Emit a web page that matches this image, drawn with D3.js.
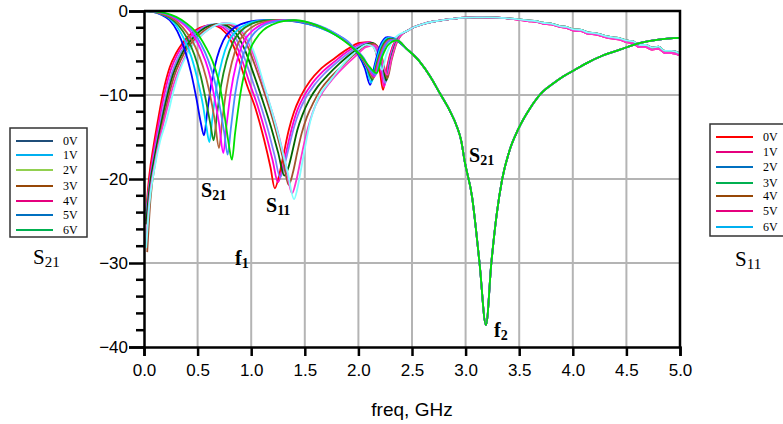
<!DOCTYPE html>
<html>
<head>
<meta charset="utf-8">
<script src="https://cdn.jsdelivr.net/npm/d3@7"></script>
<style>
  html, body { margin: 0; padding: 0; background: #fff; }
  svg { display: block; }
</style>
</head>
<body>
<svg id="chart" width="783" height="424"></svg>
<script>
// ---- data ---------------------------------------------------------------
const freqTicks = [0.0, 0.5, 1.0, 1.5, 2.0, 2.5, 3.0, 3.5, 4.0, 4.5, 5.0];
const dbTicks = [0, -10, -20, -30, -40];
const biasLabels = ["0V", "1V", "2V", "3V", "4V", "5V", "6V"];

// curve colours (one per bias voltage)
const s21Colors = ["#0000ff", "#00d8ff", "#1a8c1a", "#b5653a", "#ff00ff", "#4a8cff", "#00e000"];
const s11Colors = ["#ff0000", "#ff00cc", "#8080ff", "#006400", "#a0522d", "#ff33cc", "#80ffff"];
// legend swatch colours
const s21LegendColors = ["#1f4e79", "#00b0f0", "#92d050", "#974706", "#e5007e", "#0070c0", "#00b050"];
const s11LegendColors = ["#ff0000", "#e5007e", "#0070c0", "#00b050", "#974706", "#e5007e", "#00b0f0"];

// S21 (dB) vs freq (GHz), low-band part for each bias voltage
const s21Bias0 = [[0,0],[0.08,-0.1],[0.16,-0.45],[0.24,-1.1],[0.31,-2.4],[0.38,-4.6],[0.44,-7.4],[0.49,-10.5],[0.53,-13.3],[0.56,-14.8],[0.59,-12],[0.63,-8.5],[0.68,-5.6],[0.74,-3.5],[0.82,-2.2],[0.92,-1.5],[1.04,-1.15],[1.18,-1.05],[1.32,-1.1],[1.46,-1.35],[1.6,-1.8],[1.72,-2.4],[1.82,-3.1],[1.92,-4.0],[2.0,-5.2],[2.06,-6.8],[2.11,-8.8],[2.15,-6.5],[2.2,-4.2],[2.27,-3.1],[2.32,-3.2]];
const s21Bias1 = [[0,0],[0.08,-0.08],[0.16,-0.38],[0.24,-0.9],[0.31,-1.9],[0.38,-3.5],[0.44,-5.4],[0.5,-8.2],[0.55,-11.2],[0.58,-13.6],[0.61,-15.6],[0.64,-12.5],[0.68,-8.8],[0.73,-5.8],[0.79,-3.6],[0.87,-2.3],[0.97,-1.5],[1.08,-1.15],[1.22,-1.05],[1.35,-1.1],[1.48,-1.35],[1.6,-1.8],[1.72,-2.4],[1.82,-3.1],[1.92,-4.0],[2.0,-5.1],[2.07,-6.6],[2.12,-8.5],[2.16,-6.4],[2.21,-4.2],[2.28,-3.2],[2.33,-3.3]];
const s21Bias2 = [[0,0],[0.08,-0.07],[0.16,-0.33],[0.24,-0.8],[0.32,-1.7],[0.4,-3.2],[0.47,-5.2],[0.53,-7.8],[0.58,-10.8],[0.62,-13.5],[0.65,-15.4],[0.68,-12.4],[0.72,-8.8],[0.77,-5.9],[0.83,-3.7],[0.91,-2.3],[1.0,-1.55],[1.12,-1.15],[1.26,-1.05],[1.38,-1.1],[1.5,-1.35],[1.62,-1.8],[1.73,-2.4],[1.83,-3.15],[1.93,-4.1],[2.01,-5.2],[2.08,-6.7],[2.13,-8.2],[2.17,-6.3],[2.22,-4.3],[2.29,-3.3],[2.34,-3.4]];
const s21Bias3 = [[0,0],[0.08,-0.06],[0.16,-0.3],[0.24,-0.7],[0.32,-1.4],[0.4,-2.6],[0.48,-4.3],[0.55,-6.6],[0.61,-9.6],[0.66,-13],[0.70,-16.3],[0.73,-13],[0.77,-9.2],[0.82,-6.1],[0.88,-3.8],[0.96,-2.4],[1.05,-1.6],[1.16,-1.2],[1.3,-1.05],[1.42,-1.15],[1.54,-1.45],[1.65,-1.9],[1.75,-2.5],[1.85,-3.2],[1.94,-4.2],[2.02,-5.3],[2.09,-6.8],[2.14,-8.0],[2.18,-6.2],[2.23,-4.3],[2.3,-3.4],[2.35,-3.5]];
const s21Bias4 = [[0,0],[0.1,-0.08],[0.2,-0.35],[0.3,-0.95],[0.38,-1.7],[0.46,-2.9],[0.53,-4.6],[0.6,-7.0],[0.65,-9.8],[0.7,-13.4],[0.74,-16.9],[0.77,-13.6],[0.81,-9.6],[0.86,-6.3],[0.92,-3.9],[1.0,-2.5],[1.09,-1.65],[1.2,-1.2],[1.33,-1.08],[1.45,-1.2],[1.56,-1.5],[1.67,-2.0],[1.77,-2.6],[1.86,-3.3],[1.95,-4.3],[2.03,-5.4],[2.1,-6.9],[2.15,-7.8],[2.19,-6.1],[2.24,-4.3],[2.3,-3.5]];
const s21Bias5 = [[0,0],[0.1,-0.06],[0.2,-0.3],[0.3,-0.8],[0.38,-1.5],[0.46,-2.5],[0.53,-3.9],[0.6,-5.9],[0.66,-8.4],[0.71,-11.6],[0.75,-14.6],[0.78,-17.1],[0.81,-14],[0.85,-9.9],[0.9,-6.5],[0.96,-4.0],[1.03,-2.6],[1.12,-1.7],[1.23,-1.25],[1.36,-1.1],[1.48,-1.25],[1.6,-1.6],[1.7,-2.1],[1.8,-2.8],[1.89,-3.5],[1.97,-4.5],[2.05,-5.6],[2.11,-7.0],[2.16,-7.6],[2.2,-6.0],[2.25,-4.2],[2.31,-3.5]];
const s21Bias6 = [[0,0],[0.1,-0.05],[0.2,-0.25],[0.3,-0.7],[0.4,-1.5],[0.47,-2.3],[0.52,-3.1],[0.58,-4.4],[0.64,-6.0],[0.69,-8.0],[0.73,-10.5],[0.76,-13.2],[0.79,-15.8],[0.82,-17.7],[0.85,-14.5],[0.9,-9.8],[0.95,-6.6],[0.99,-4.6],[1.05,-3.2],[1.11,-2.3],[1.2,-1.6],[1.3,-1.2],[1.4,-1.1],[1.5,-1.25],[1.62,-1.75],[1.74,-2.5],[1.84,-3.3],[1.94,-4.3],[2.03,-5.4],[2.1,-6.6],[2.17,-7.4],[2.22,-5.5],[2.28,-4.0]];
// common high-band part of S21 (all bias voltages coincide)
const s21High = [[2.36,-3.5],[2.45,-4.5],[2.57,-6.0],[2.67,-7.8],[2.76,-9.8],[2.85,-11.8],[2.92,-13.8],[2.96,-15.5],[2.99,-17.8],[3.06,-22.1],[3.13,-30],[3.19,-37.4],[3.24,-30],[3.29,-24.2],[3.34,-20.1],[3.41,-16.6],[3.49,-14.1],[3.6,-11.6],[3.72,-9.6],[3.82,-8.6],[3.91,-7.8],[4.02,-7.0],[4.13,-6.2],[4.28,-5.3],[4.44,-4.6],[4.63,-3.8],[4.8,-3.4],[5.0,-3.2]];

// S11 (dB) vs freq (GHz), low-band part for each bias voltage
const s11Bias0 = [[0.02,-23.8],[0.05,-19.5],[0.09,-16],[0.13,-13],[0.18,-9.6],[0.24,-6.7],[0.3,-5.0],[0.36,-3.8],[0.44,-2.7],[0.52,-2.0],[0.6,-1.7],[0.66,-1.75],[0.72,-2.1],[0.8,-3.3],[0.88,-5.6],[0.96,-8.8],[1.04,-11.6],[1.12,-15.3],[1.18,-18.6],[1.22,-21.1],[1.26,-19.6],[1.3,-17.2],[1.35,-14.2],[1.4,-12],[1.46,-10.2],[1.55,-8.3],[1.64,-7.0],[1.76,-5.8],[1.89,-4.6],[2.01,-3.8],[2.1,-3.7],[2.16,-4.8],[2.2,-7.2],[2.23,-9.4],[2.27,-6.5],[2.32,-4.2],[2.38,-3.0]];
const s11Bias1 = [[0.02,-25],[0.05,-20.5],[0.09,-16.8],[0.14,-13.2],[0.19,-9.9],[0.25,-7.0],[0.31,-5.2],[0.38,-3.8],[0.46,-2.7],[0.54,-2.0],[0.62,-1.65],[0.68,-1.7],[0.74,-2.0],[0.82,-3.1],[0.9,-5.3],[0.98,-8.4],[1.06,-11.3],[1.14,-14.8],[1.2,-17.8],[1.25,-20.4],[1.29,-18.8],[1.33,-16.6],[1.38,-13.9],[1.43,-11.8],[1.49,-10.2],[1.57,-8.6],[1.66,-7.3],[1.78,-6.0],[1.9,-4.8],[2.02,-3.9],[2.11,-3.7],[2.17,-4.7],[2.21,-7.0],[2.24,-9.0],[2.28,-6.2],[2.33,-4.0],[2.39,-2.9]];
const s11Bias2 = [[0.02,-24.2],[0.05,-20.8],[0.1,-16.8],[0.15,-13.5],[0.2,-10.4],[0.26,-7.4],[0.32,-5.5],[0.39,-4.0],[0.47,-2.8],[0.55,-2.0],[0.64,-1.6],[0.7,-1.6],[0.76,-1.9],[0.84,-2.9],[0.92,-5.0],[1.0,-7.9],[1.08,-10.9],[1.16,-14.3],[1.22,-17.3],[1.27,-19.8],[1.31,-18.4],[1.35,-16.3],[1.4,-13.8],[1.45,-11.9],[1.51,-10.3],[1.59,-8.8],[1.68,-7.5],[1.8,-6.1],[1.92,-4.9],[2.04,-4.0],[2.12,-3.8],[2.18,-4.6],[2.22,-6.8],[2.25,-8.6],[2.29,-6.0],[2.34,-3.9],[2.4,-2.8]];
const s11Bias3 = [[0.02,-25.4],[0.05,-21.2],[0.1,-17.3],[0.16,-13.4],[0.21,-10.5],[0.27,-7.6],[0.33,-5.7],[0.4,-4.1],[0.48,-2.9],[0.57,-2.0],[0.66,-1.6],[0.72,-1.55],[0.78,-1.8],[0.86,-2.7],[0.94,-4.6],[1.02,-7.4],[1.1,-10.4],[1.18,-13.6],[1.25,-16.8],[1.31,-19.6],[1.35,-18.5],[1.39,-16.4],[1.43,-14.2],[1.48,-12.3],[1.54,-10.6],[1.62,-9.0],[1.71,-7.7],[1.82,-6.3],[1.94,-5.0],[2.05,-4.1],[2.13,-3.8],[2.19,-4.6],[2.23,-6.6],[2.26,-8.3],[2.3,-5.9],[2.35,-3.8],[2.41,-2.7]];
const s11Bias4 = [[0.03,-28.7],[0.06,-22.5],[0.11,-17.6],[0.17,-13.6],[0.22,-10.7],[0.28,-7.8],[0.34,-5.9],[0.41,-4.3],[0.5,-3.0],[0.59,-2.1],[0.68,-1.6],[0.75,-1.5],[0.81,-1.7],[0.89,-2.5],[0.97,-4.3],[1.05,-7.0],[1.13,-10.0],[1.21,-13.3],[1.29,-17.2],[1.35,-20.7],[1.39,-19.2],[1.43,-16.8],[1.47,-14.6],[1.52,-12.6],[1.58,-10.9],[1.65,-9.3],[1.74,-7.9],[1.85,-6.5],[1.96,-5.2],[2.06,-4.2],[2.14,-3.9],[2.2,-4.7],[2.24,-6.6],[2.27,-8.0],[2.31,-5.8],[2.36,-3.7],[2.42,-2.6]];
const s11Bias5 = [[0.02,-27.7],[0.05,-22.4],[0.1,-18.2],[0.16,-14.5],[0.22,-11.4],[0.28,-8.6],[0.35,-6.3],[0.42,-4.6],[0.51,-3.2],[0.6,-2.2],[0.69,-1.6],[0.77,-1.45],[0.84,-1.7],[0.92,-2.6],[1.0,-4.5],[1.08,-7.4],[1.16,-10.6],[1.24,-14.0],[1.32,-18.2],[1.38,-21.7],[1.42,-20.2],[1.46,-17.8],[1.5,-15.4],[1.55,-13.0],[1.6,-11.2],[1.67,-9.6],[1.76,-8.1],[1.87,-6.6],[1.98,-5.3],[2.07,-4.3],[2.15,-4.1],[2.2,-5.0],[2.24,-6.9],[2.27,-7.6],[2.31,-5.6],[2.36,-3.6],[2.42,-2.6]];
const s11Bias6 = [[0.02,-28.2],[0.05,-23],[0.1,-18.6],[0.15,-15.5],[0.21,-13],[0.27,-9.8],[0.33,-7.2],[0.4,-5.2],[0.48,-3.6],[0.56,-2.6],[0.64,-1.9],[0.72,-1.5],[0.8,-1.45],[0.88,-1.8],[0.96,-3.0],[1.04,-5.4],[1.12,-8.8],[1.19,-11.8],[1.27,-15.6],[1.34,-19.2],[1.40,-22.4],[1.43,-21.2],[1.46,-19.2],[1.5,-16.4],[1.55,-13.2],[1.6,-11.2],[1.64,-10.0],[1.7,-8.9],[1.76,-7.9],[1.84,-6.6],[1.92,-5.5],[2.0,-4.6],[2.08,-4.0],[2.14,-4.3],[2.18,-5.5],[2.22,-7.0],[2.26,-5.2],[2.32,-3.5],[2.38,-2.8]];
// common high-band part of S11 (two slightly separated traces)
const s11HighA = [[2.45,-2.4],[2.52,-1.9],[2.6,-1.55],[2.7,-1.25],[2.8,-1.05],[2.9,-0.9],[3.0,-0.8],[3.1,-0.75],[3.2,-0.78],[3.3,-0.8],[3.4,-0.9],[3.5,-1.05],[3.58,-1.2],[3.66,-1.3],[3.72,-1.5],[3.8,-1.6],[3.88,-1.9],[3.94,-2.0],[4.0,-2.3],[4.08,-2.4],[4.14,-2.7],[4.22,-2.8],[4.3,-3.1],[4.38,-3.3],[4.44,-3.4],[4.5,-3.7],[4.56,-3.8],[4.62,-4.3],[4.68,-4.3],[4.74,-4.6],[4.8,-4.5],[4.86,-5.0],[4.92,-5.0],[5.0,-5.3]];
const s11HighB = [[2.45,-2.4],[2.52,-1.9],[2.6,-1.55],[2.7,-1.25],[2.8,-1.05],[2.9,-0.9],[3.0,-0.8],[3.1,-0.75],[3.2,-0.76],[3.3,-0.78],[3.4,-0.88],[3.5,-1.0],[3.58,-1.12],[3.66,-1.22],[3.72,-1.4],[3.8,-1.5],[3.88,-1.8],[3.94,-1.9],[4.0,-2.15],[4.08,-2.25],[4.14,-2.55],[4.22,-2.65],[4.3,-2.95],[4.38,-3.15],[4.44,-3.25],[4.5,-3.5],[4.56,-3.6],[4.62,-4.05],[4.68,-4.05],[4.74,-4.35],[4.8,-4.25],[4.86,-4.75],[4.92,-4.75],[5.0,-5.05]];

// ---- layout -------------------------------------------------------------
const svg = d3.select("#chart");
const plot = { left: 144, right: 680, top: 11, bottom: 347 };
const x = d3.scaleLinear().domain([0, 5]).range([plot.left, plot.right]);
const y = d3.scaleLinear().domain([-40, 0]).range([plot.bottom, plot.top]);
const tickFont = "'Liberation Sans Narrow', 'Arial Narrow', 'Liberation Sans', Arial, sans-serif";
const serif = "'Liberation Serif', 'Times New Roman', 'DejaVu Serif', serif";

svg.append("defs").append("clipPath").attr("id", "plotClip")
  .append("rect")
  .attr("x", plot.left).attr("y", plot.top - 1)
  .attr("width", plot.right - plot.left).attr("height", plot.bottom - plot.top + 2);

// grid
const grid = svg.append("g");
grid.selectAll("line.gx").data(freqTicks.filter(f => f > 0 && f < 5)).join("line")
  .attr("x1", d => x(d)).attr("x2", d => x(d))
  .attr("y1", plot.top).attr("y2", plot.bottom)
  .attr("stroke", "#b4b4b4").attr("stroke-width", 2);
grid.selectAll("line.gy").data(dbTicks.filter(v => v < 0 && v > -40)).join("line")
  .attr("x1", plot.left).attr("x2", plot.right)
  .attr("y1", d => y(d)).attr("y2", d => y(d))
  .attr("stroke", "#b4b4b4").attr("stroke-width", 2);

// curves
const line = d3.line()
  .x(d => x(d[0])).y(d => y(d[1]))
  .curve(d3.curveMonotoneX);
const curves = svg.append("g").attr("clip-path", "url(#plotClip)")
  .attr("fill", "none").attr("stroke-width", 1.8).attr("stroke-linejoin", "round");

const s11Low = [s11Bias0, s11Bias1, s11Bias2, s11Bias3, s11Bias4, s11Bias5, s11Bias6];
const s11HighFor = [s11HighA, s11HighA, s11HighB, s11HighB, s11HighB, s11HighA, s11HighB];
const s21Low = [s21Bias0, s21Bias1, s21Bias2, s21Bias3, s21Bias4, s21Bias5, s21Bias6];

curves.selectAll("path.s11").data(s11Low.map((lo, i) => lo.concat(s11HighFor[i]))).join("path")
  .attr("class", "s11")
  .attr("d", line)
  .attr("stroke", (d, i) => s11Colors[i]);
curves.selectAll("path.s21").data(s21Low.map(lo => lo.concat(s21High))).join("path")
  .attr("class", "s21")
  .attr("d", line)
  .attr("stroke", (d, i) => s21Colors[i]);

// frame (top and right edges)
svg.append("path")
  .attr("d", `M${plot.left},${plot.top}H${plot.right}V${plot.bottom}`)
  .attr("fill", "none").attr("stroke", "#000").attr("stroke-width", 2.5);

// y axis
const yAxis = d3.axisLeft(y).tickValues(dbTicks).tickSize(15).tickFormat(d3.format("d"));
const yg = svg.append("g").attr("transform", `translate(${plot.left},0)`).call(yAxis);
yg.select(".domain").attr("stroke-width", 2.5);
yg.selectAll(".tick line").attr("stroke-width", 2.5);
yg.selectAll(".tick text").attr("font-family", tickFont).attr("font-size", 17)
  .attr("fill", "#000").attr("x", -16);
const yMinor = d3.range(-40, 1, 2).filter(v => v % 10 !== 0);
svg.append("g").selectAll("line").data(yMinor).join("line")
  .attr("x1", plot.left - 8).attr("x2", plot.left)
  .attr("y1", d => y(d)).attr("y2", d => y(d))
  .attr("stroke", "#000").attr("stroke-width", 2.5);

// x axis
const xAxis = d3.axisBottom(x).tickValues(freqTicks).tickSize(9).tickFormat(d3.format(".1f"));
const xg = svg.append("g").attr("transform", `translate(0,${plot.bottom})`).call(xAxis);
xg.select(".domain").attr("stroke-width", 2.5);
xg.selectAll(".tick line").attr("stroke-width", 2.5);
xg.selectAll(".tick text").attr("font-family", tickFont).attr("font-size", 17)
  .attr("fill", "#000").attr("y", 17);

svg.append("text").attr("x", 412).attr("y", 416).attr("text-anchor", "middle")
  .attr("font-family", tickFont).attr("font-size", 19).text("freq, GHz");

// legends
function legend(x0, y0, w, h, rowY, colors, textX, title, titleX, titleY) {
  const g = svg.append("g");
  g.append("rect").attr("x", x0).attr("y", y0).attr("width", w).attr("height", h)
    .attr("fill", "#fff").attr("stroke", "#333").attr("stroke-width", 1.5);
  biasLabels.forEach((lab, i) => {
    const yy = rowY[i];
    g.append("line").attr("x1", x0 + 6).attr("x2", x0 + 43).attr("y1", yy).attr("y2", yy)
      .attr("stroke", colors[i]).attr("stroke-width", 2);
    g.append("text").attr("x", textX).attr("y", yy + 4)
      .attr("font-family", serif).attr("font-size", 12).text(lab);
  });
  const t = g.append("text").attr("x", titleX).attr("y", titleY)
    .attr("font-family", serif).attr("font-size", 21);
  t.append("tspan").text(title[0]);
  t.append("tspan").attr("font-size", 15).attr("dy", 3).text(title.slice(1));
}
legend(10, 128, 77, 109, [141, 155, 170, 186, 201, 215, 230], s21LegendColors, 63, "S21", 33, 264);
legend(710, 124, 80, 112, [137, 152, 167, 183, 196, 211, 227], s11LegendColors, 763, "S11", 735, 266);

// annotations inside the plot
function label(text, sub, lx, ly) {
  const t = svg.append("text").attr("x", lx).attr("y", ly)
    .attr("font-family", serif).attr("font-weight", "bold").attr("font-size", 20);
  t.append("tspan").text(text);
  t.append("tspan").attr("font-size", 14).attr("dy", 3).text(sub);
}
label("S", "21", 201, 197);
label("S", "11", 266, 212);
label("f", "1", 235, 265);
label("S", "21", 469, 162);
label("f", "2", 494, 337);
</script>
</body>
</html>
